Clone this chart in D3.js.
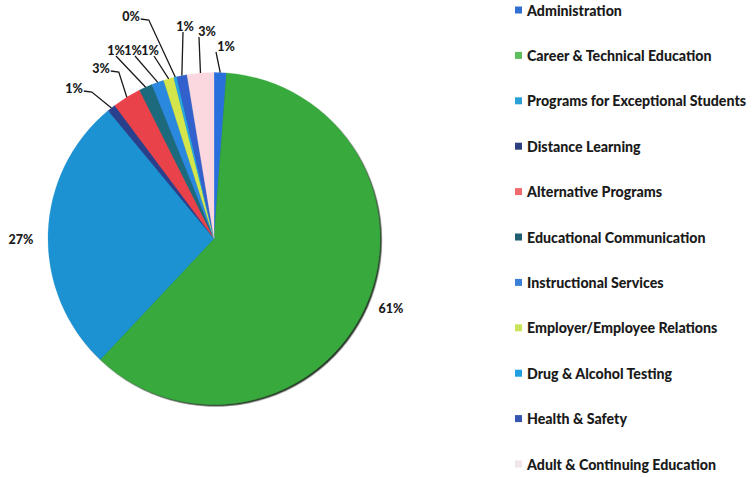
<!DOCTYPE html>
<html>
<head>
<meta charset="utf-8">
<script src="https://cdn.jsdelivr.net/npm/d3@7/dist/d3.min.js"></script>
<style>
  html, body { margin: 0; padding: 0; background: #fff; }
  svg { display: block; }
  text { font-family: Lato, "Open Sans", sans-serif; font-weight: 900; fill: #1a1a1a; }
</style>
</head>
<body>
<svg id="chart" width="754" height="477"></svg>
<script>
// Budget share by program area (percent)
const categories = [
  "Administration",
  "Career & Technical Education",
  "Programs for Exceptional Students",
  "Distance Learning",
  "Alternative Programs",
  "Educational Communication",
  "Instructional Services",
  "Employer/Employee Relations",
  "Drug & Alcohol Testing",
  "Health & Safety",
  "Adult & Continuing Education"
];
const shares = [1.2, 60.8, 27.0, 0.8, 2.8, 1.3, 1.2, 1.0, 0.3, 1.0, 2.6];

// Slice and legend swatch colours
const sliceColors = [
  "#2a6fdc", "#37a93c", "#1c92d3", "#2c3f8c", "#e9434c", "#1b6b7c",
  "#2c88df", "#d4e64c", "#27a6e2", "#3060cc", "#fbd8e0"
];
const swatchColors = [
  "#2f6fd2", "#5cbf5c", "#2aa0d8", "#2e3f80", "#f26a6e", "#1f5f70",
  "#3a80d8", "#c9e45a", "#1f9fe0", "#3656b2", "#f1e4ea"
];

// Label placement: text centre, leader style, leader start offset from text centre
const labelLayout = [
  { x: 226, y: 46, lead: "up", sx: -10, sy: 6 },
  { x: 391, y: 308, lead: "none" },
  { x: 21, y: 239, lead: "none" },
  { x: 74, y: 88, lead: "side" },
  { x: 101, y: 68, lead: "side" },
  { x: 116, y: 50, lead: "up", sx: 0, sy: 6 },
  { x: 133, y: 50, lead: "up", sx: 2, sy: 6 },
  { x: 150, y: 50, lead: "up", sx: 4, sy: 6 },
  { x: 131, y: 16, lead: "side" },
  { x: 185, y: 26, lead: "up", sx: -2, sy: 6 },
  { x: 207, y: 31, lead: "up", sx: -8, sy: 6 }
];

const svg = d3.select("#chart");
const cx = 214, cy = 238.5, r = 166;

const defs = svg.append("defs");
const shadow = defs.append("filter").attr("id", "pieShadow")
  .attr("x", "-10%").attr("y", "-10%").attr("width", "120%").attr("height", "120%");
shadow.append("feDropShadow")
  .attr("dx", 1.6).attr("dy", 1.6).attr("stdDeviation", 0.7)
  .attr("flood-color", "#0b1f0b").attr("flood-opacity", 0.9);

const pie = d3.pie().sort(null).value(d => d.value);
const arcs = pie(categories.map((c, i) => ({ name: c, value: shares[i], i })));
const arc = d3.arc().innerRadius(0).outerRadius(r);
const total = d3.sum(shares);
const fmt = v => Math.round(v / total * 100) + "%";

const g = svg.append("g").attr("transform", `translate(${cx},${cy})`);
g.append("g").attr("filter", "url(#pieShadow)")
  .selectAll("path").data(arcs).join("path")
  .attr("d", arc)
  .attr("fill", d => sliceColors[d.data.i])
  .attr("stroke", d => sliceColors[d.data.i])
  .attr("stroke-width", 0.3);

// Data labels with leader lines to the slice edge
const labels = svg.append("g");
arcs.forEach(d => {
  const L = labelLayout[d.data.i];
  const t = labels.append("text")
    .attr("x", L.x).attr("y", L.y)
    .attr("text-anchor", "middle")
    .attr("dominant-baseline", "central")
    .attr("font-size", 12.5)
    .text(fmt(d.data.value));
  if (L.lead === "none") return;
  const mid = (d.startAngle + d.endAngle) / 2;
  const ex = cx + r * Math.sin(mid), ey = cy - r * Math.cos(mid);
  let pts;
  if (L.lead === "side") {
    const bb = t.node().getBBox();
    const x0 = bb.x + bb.width + 1, y0 = L.y + 3;
    pts = [[x0, y0], [x0 + 8, y0 + 1], [ex, ey]];
  } else {
    pts = [[L.x + L.sx, L.y + L.sy], [ex, ey]];
  }
  labels.append("path")
    .attr("d", d3.line()(pts))
    .attr("fill", "none")
    .attr("stroke", "#1a1a1a")
    .attr("stroke-width", 1.3);
});

// Legend
const ly = d3.scalePoint().domain(categories).range([10, 464]);
const legend = svg.append("g");
const item = legend.selectAll("g").data(categories).join("g")
  .attr("transform", d => `translate(515,${ly(d)})`);
item.append("rect")
  .attr("x", 0).attr("y", -3.5).attr("width", 7).attr("height", 7)
  .attr("fill", (d, i) => swatchColors[i]);
item.append("text")
  .attr("x", 12).attr("y", 0)
  .attr("dominant-baseline", "central")
  .attr("font-size", 14.2)
  .text(d => d);
</script>
</body>
</html>
